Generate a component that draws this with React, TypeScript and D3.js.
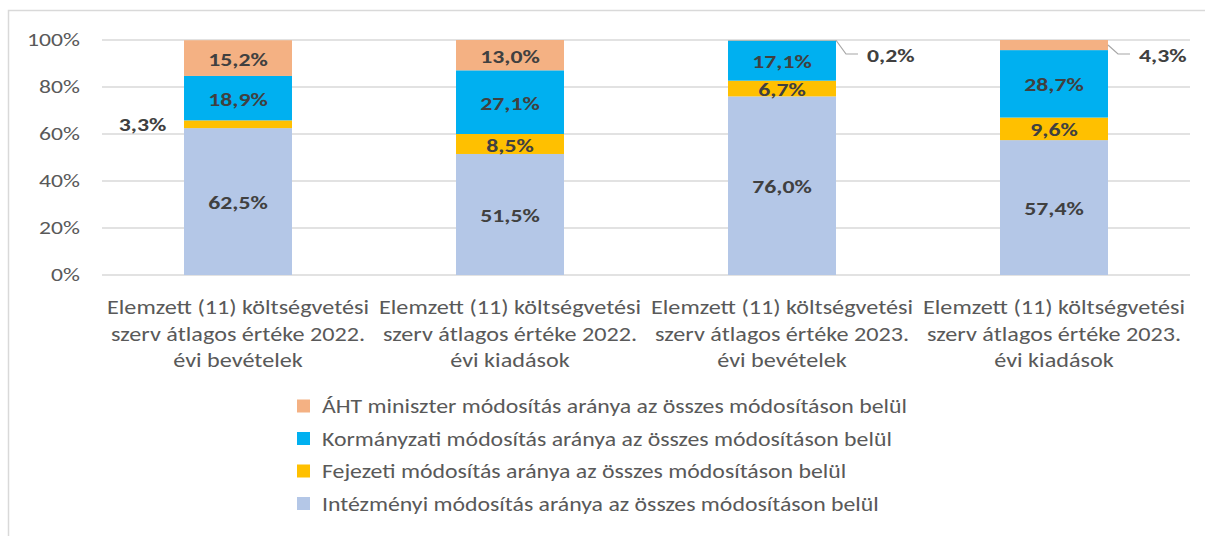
import React from "react";
import * as d3 from "d3";

const categories = [
  ["Elemzett (11) költségvetési", "szerv átlagos értéke 2022.", "évi bevételek"],
  ["Elemzett (11) költségvetési", "szerv átlagos értéke 2022.", "évi kiadások"],
  ["Elemzett (11) költségvetési", "szerv átlagos értéke 2023.", "évi bevételek"],
  ["Elemzett (11) költségvetési", "szerv átlagos értéke 2023.", "évi kiadások"],
];
const seriesNames = [
  "Intézményi módosítás aránya az összes módosításon belül",
  "Fejezeti módosítás aránya az összes módosításon belül",
  "Kormányzati módosítás aránya az összes módosításon belül",
  "ÁHT miniszter módosítás aránya az összes módosításon belül",
];
const intezmenyi = [62.5, 51.5, 76.0, 57.4];
const fejezeti = [3.3, 8.5, 6.7, 9.6];
const kormanyzati = [18.9, 27.1, 17.1, 28.7];
const aht = [15.2, 13.0, 0.2, 4.3];
const yTicks = [0, 20, 40, 60, 80, 100];
const colors = ["#B4C7E7", "#FFC000", "#00B0F0", "#F4B183"];

const W = 1205, H = 536;
const FONT = "Carlito, Calibri, Lato, 'Noto Sans', sans-serif";

function T({ x, y, sx = 1.2, children, ...rest }: any) {
  return (
    <text transform={`translate(${x},${y}) scale(${sx},1)`} {...rest}>
      {children}
    </text>
  );
}

export default function App() {
  const series = [intezmenyi, fejezeti, kormanyzati, aht];
  const x = d3.scaleBand<number>().domain([0, 1, 2, 3]).range([102, 1190]).paddingInner(0.603).paddingOuter(0.3015);
  const y = d3.scaleLinear().domain([0, 100]).range([275, 40]);
  const fmt = (v: number) => v.toFixed(1).replace(".", ",") + "%";

  const segs: any[] = [];
  categories.forEach((_, ci) => {
    let acc = 0;
    series.forEach((s, si) => {
      const v = s[ci];
      const y0 = acc;
      const y1 = Math.min(100, acc + v);
      acc += v;
      segs.push({ ci, si, v, y0, y1 });
    });
  });

  const bw = x.bandwidth();
  const lab = { fontSize: 19, fontWeight: 700, fill: "#404040", sx: 1.25, dy: "0.35em" } as any;
  return (
    <svg width={W} height={H} style={{ position: "absolute", left: 0, top: 0, background: "#fff" }} fontFamily={FONT}>
      <rect x={8.5} y={10.5} width={W} height={H} fill="none" stroke="#D9D9D9" strokeWidth={1.5} />
      {yTicks.map((t) => (
        <g key={t}>
          <line x1={102} x2={1190} y1={y(t)} y2={y(t)} stroke="#D9D9D9" strokeWidth={1.5} />
          <T x={80} y={y(t)} sx={1.28} dy="0.35em" textAnchor="end" fontSize={18.5} fill="#595959">{t}%</T>
        </g>
      ))}
      {segs.map((s, i) => (
        <rect key={i} x={x(s.ci)!} width={bw} y={y(s.y1)} height={y(s.y0) - y(s.y1)} fill={colors[s.si]} />
      ))}
      {segs.map((s, i) => {
        const cx = x(s.ci)! + bw / 2;
        const cy = (y(s.y0) + y(s.y1)) / 2;
        if (s.ci === 0 && s.si === 1) {
          return <T key={i} x={x(s.ci)! - 41.5} y={cy} textAnchor="middle" {...lab}>{fmt(s.v)}</T>;
        }
        if (s.si === 3 && s.v < 5) {
          const bx = x(s.ci)! + bw;
          const by = cy;
          const ky = y(100) + 14;
          return (
            <g key={i}>
              <polyline points={`${bx},${by} ${bx + 10},${ky} ${bx + 22},${ky}`} fill="none" stroke="#A6A6A6" strokeWidth={1.2} />
              <T x={bx + 31} y={ky + 1.5} {...lab}>{fmt(s.v)}</T>
            </g>
          );
        }
        return <T key={i} x={cx} y={cy + 1} textAnchor="middle" {...lab}>{fmt(s.v)}</T>;
      })}
      {categories.map((lines, ci) =>
        lines.map((l, li) => (
          <T key={ci + "-" + li} x={x(ci)! + bw / 2} y={314 + li * 26.5} sx={1.21} textAnchor="middle" fontSize={20} fill="#595959">{l}</T>
        ))
      )}
      {[3, 2, 1, 0].map((si, k) => (
        <g key={si}>
          <rect x={297} y={406 + k * 32.5 - 6.5} width={13} height={13} fill={colors[si]} />
          <T x={322} y={406 + k * 32.5} sx={1.19} dy="0.35em" fontSize={20} fill="#595959">{seriesNames[si]}</T>
        </g>
      ))}
    </svg>
  );
}
